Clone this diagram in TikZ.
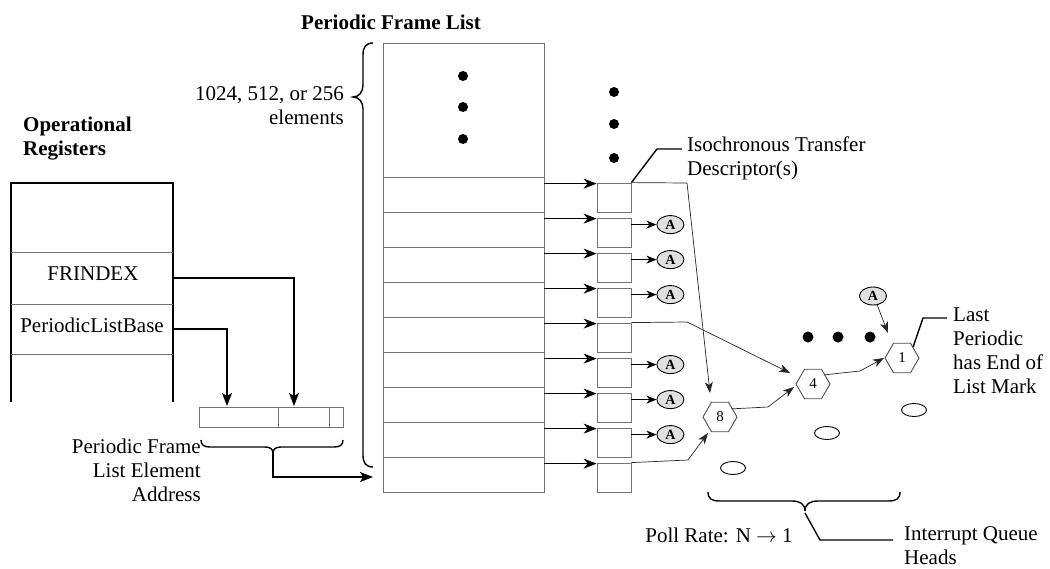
\documentclass[tikz,border=0pt]{standalone}
\usepackage{fontspec}
\setmainfont{Liberation Serif}
\usetikzlibrary{arrows.meta,shapes.geometric,calc}
\begin{document}
\begin{tikzpicture}[x=1pt,y=-1pt,
  txt/.style={font=\fontsize{21}{24}\selectfont, inner sep=0pt},
  btxt/.style={font=\bfseries\fontsize{21}{24}\selectfont, inner sep=0pt},
  grayline/.style={draw=black!55, line width=0.8pt},
  rowbox/.style={grayline, minimum width=161pt, inner sep=0pt},
  tdbox/.style={grayline, minimum width=34pt, minimum height=29pt, inner sep=0pt},
  aell/.style={ellipse, draw, line width=0.9pt, fill=black!12, minimum width=27pt, minimum height=18pt, inner sep=0pt, font=\bfseries\fontsize{14}{14}\selectfont},
  eell/.style={ellipse, draw, line width=0.9pt, minimum width=25pt, minimum height=13pt, inner sep=0pt},
  hexn/.style={regular polygon, regular polygon sides=6, draw=black!70, line width=0.9pt, minimum size=34pt, inner sep=0pt, font=\fontsize{15}{15}\selectfont},
  arr/.style={draw, line width=0.9pt, -{Stealth[length=13pt,width=10pt,inset=4pt]}},
  arrsm/.style={draw, line width=0.9pt, -{Stealth[length=10pt,width=8pt,inset=3pt]}},
  con/.style={draw=black!85, line width=0.7pt, -{Stealth[length=11pt,width=8pt,inset=3pt]}},
  heavy/.style={draw, line width=1.6pt},
  heavyarr/.style={heavy, -{Stealth[length=13pt,width=10pt,inset=3pt]}},
  bracep/.style={draw, line width=1.4pt},
  blackdot/.style={circle, fill, minimum size=10pt, inner sep=0pt},
]
\useasboundingbox (0,0) rectangle (1050,568);

% ---------- titles ----------
\node[btxt, align=left, anchor=west] (optitle) at (23,139) {Operational\\Registers};
\node[btxt] (pfltitle) at (391,22) {Periodic Frame List};

% ---------- operational registers ----------
\draw[heavy] (11,402) -- (11,183) -- (173,183) -- (173,402);
\draw[grayline] (11,252) -- (173,252);
\draw[grayline] (11,304) -- (173,304);
\draw[grayline] (11,354) -- (173,354);
\node[minimum width=162pt, minimum height=52pt, inner sep=0pt] (frc) at (92,278) {};
\node[minimum width=162pt, minimum height=50pt, inner sep=0pt] (plc) at (92,329) {};
\node[txt, anchor=base] (frt) at (93,280) {FRINDEX};
\node[txt, anchor=base] (plt) at (92,332) {PeriodicListBase};

% ---------- address register ----------
\node[grayline, minimum width=144pt, minimum height=20pt, inner sep=0pt] (addr) at (271,417) {};
\draw[grayline] (278,407) -- (278,427);
\draw[grayline] (329,407) -- (329,427);
\coordinate (pfr) at (294,406);
\coordinate (pplb) at (227,406);
\draw[heavyarr] (frc.east) -| (pfr);
\draw[heavyarr] (plc.east) -| (pplb);

\draw[bracep] (201,440) .. controls (201,445) and (204,447) .. (210,447) -- (265,447)
  .. controls (270,447) and (273,449) .. (273,453)
  .. controls (273,449) and (276,447) .. (281,447) -- (334,447)
  .. controls (340,447) and (343,445) .. (343,440);
\coordinate (abt) at (273,453);
\coordinate (aend) at (373,477);
\draw[heavyarr] (abt) |- (aend);
\node[txt, align=right, anchor=east] (addrlbl) at (201,470) {Periodic Frame\\List Element\\Address};

% ---------- periodic frame list ----------
\node[rowbox, minimum height=134pt] (ftop) at (463.5,110) {};
\foreach \i in {1,...,9} {
  \node[rowbox, minimum height=35pt] (r\i) at (463.5,{177+35*(\i-1)+17.5}) {};
  \node[tdbox] (td\i) at (614,{177+35*(\i-1)+6+14.5}) {};
  \draw[arr] ($(r\i.north east)+(0,7)$) -- ($(td\i.north west)+(0,1)$);
}
\foreach \y in {76,107,139} \node[blackdot] at (463,\y) {};
\foreach \y in {92,124,158} \node[blackdot] at (614,\y) {};

\draw[bracep] (373,43) .. controls (366,43) and (363,47) .. (363,55) -- (363,85)
  .. controls (363,92) and (359,97) .. (353,97)
  .. controls (359,97) and (363,102) .. (363,109) -- (363,455)
  .. controls (363,463) and (366,467) .. (373,467);
\node[txt, align=right, anchor=east] (cnt) at (344,106) {1024, 512, or 256\\elements};

% ---------- A nodes ----------
\foreach \i in {2,3,4,6,7,8} {
  \node[aell] (a\i) at ($(td\i.north east)+(39,7)$) {A};
  \draw[arrsm] ($(td\i.north east)+(0,7)$) -- (a\i.west);
}

% ---------- ITD label ----------
\draw[line width=1.4pt] (td1.north east) -- (657,149) -- (682,149);
\node[txt, align=left, anchor=west] (itd) at (687,158) {Isochronous Transfer\\Descriptor(s)};

% ---------- interrupt queue heads ----------
\node[hexn] (h8) at (720,417) {8};
\node[hexn] (h4) at (813,384) {4};
\node[hexn] (h1) at (902,358) {1};
\node[aell] (atop) at (873,296) {A};

\coordinate (t8a) at (710,393);
\coordinate (t8b) at (708,433);
\coordinate (t4a) at (790,373);
\coordinate (t4b) at (794,387);
\coordinate (t1) at (884,358);
\draw[con] (td1.north east) -- (687,183) -- (t8a);
\draw[con] (td5.north east) -- (687,322) -- (t4a);
\draw[con] (td9.north east) -- (688,460) -- (t8b);
\draw[con] (h8.north east) ++(0,3) -- (768,407) -- (t4b);
\draw[con] (h4.north east) ++(0,2) -- (860,371) -- (t1);
\draw[con] (atop.-65) -- (888,333);

\foreach \x in {808,838,870} \node[blackdot, minimum size=11pt] at (\x,337) {};

\node[eell] (e1) at (733,468) {};
\node[eell] (e2) at (827,433) {};
\node[eell] (e3) at (914,410) {};

\draw[line width=1.4pt] (h1.north east) -- (923,318) -- (947,318);
\node[txt, align=left, anchor=west] (lastlbl) at (953,351) {Last\\Periodic\\has End of\\List Mark};

\draw[bracep] (708,492) .. controls (708,499) and (712,501) .. (720,501) -- (792,501)
  .. controls (800,501) and (805,504) .. (805,511)
  .. controls (805,504) and (810,501) .. (818,501) -- (888,501)
  .. controls (896,501) and (900,499) .. (900,492);
\coordinate (bt) at (805,513);
\draw[line width=1.4pt] (bt) -- (820,540) -- (893,540);
\node[txt] (poll) at (719,535) {Poll Rate: N $\rightarrow$ 1};
\node[txt, align=left, anchor=west] (iqh) at (904,546) {Interrupt Queue\\Heads};
\end{tikzpicture}
\end{document}
